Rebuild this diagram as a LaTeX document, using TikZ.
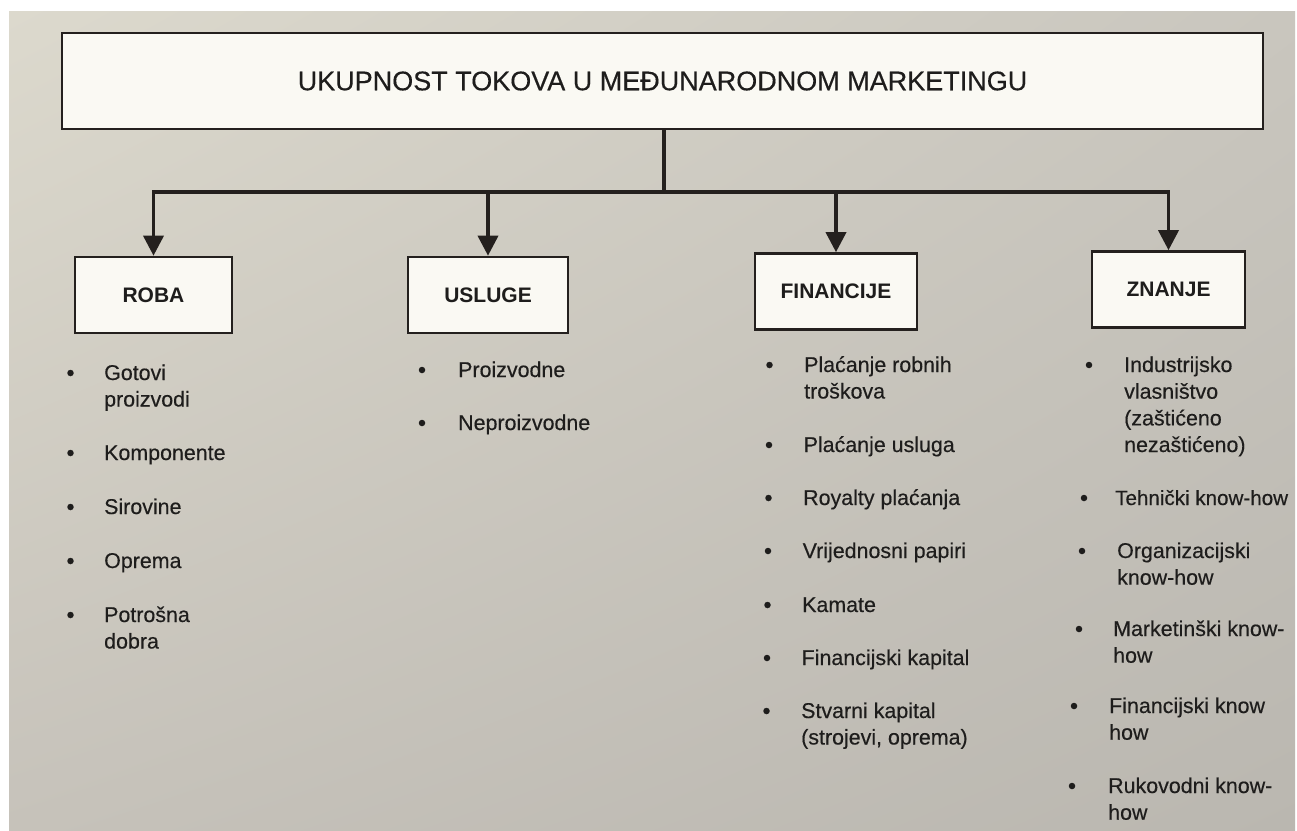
\documentclass[tikz,border=0pt]{standalone}
\usepackage{fontspec}
\setmainfont{Liberation Sans}
\newfontfamily\listfont[FakeBold=0.35]{Liberation Sans}
\usetikzlibrary{arrows.meta,shadings}
\definecolor{ink}{RGB}{36,32,30}
\definecolor{txt}{RGB}{30,29,28}
\definecolor{boxfill}{RGB}{250,249,243}
\definecolor{bgUL}{RGB}{220,217,205}
\definecolor{bgUR}{RGB}{201,198,190}
\definecolor{bgLL}{RGB}{198,194,186}
\definecolor{bgLR}{RGB}{186,183,176}
\begin{document}
\begin{tikzpicture}[x=1pt,y=-1pt,
  hbox/.style={draw=ink,line width=2.6pt,fill=boxfill,inner sep=0pt,text=txt},
  kid/.style={hbox,minimum height=76pt,font=\fontsize{21}{21}\selectfont\bfseries},
  conn/.style={draw=ink,line width=3.6pt},
  arr/.style={conn,-{Triangle[length=20pt,width=20pt]}},
  item/.style={anchor=base west,inner sep=0pt,text=txt,font=\listfont\fontsize{21.4}{21.4}\selectfont},
  dot/.style={circle,fill=txt,inner sep=0pt,minimum size=6.5pt}]
\useasboundingbox (0,0) rectangle (1297,830);
\fill[white] (0,0) rectangle (1297,830);
\shade[upper left=bgUL,upper right=bgUR,lower left=bgLL,lower right=bgLR] (9,11) rectangle (1295,830);

% top box
\node[hbox,minimum width=1201pt,minimum height=96pt,font=\listfont\fontsize{27}{27}\selectfont] (top) at (662.5,81) {UKUPNOST TOKOVA U MEĐUNARODNOM MARKETINGU};

% child boxes
\node[kid,minimum width=157pt] (roba) at (153.5,295) {ROBA};
\node[kid,minimum width=160pt] (usluge) at (488,295) {USLUGE};
\node[kid,minimum width=162pt] (fin) at (836,291.5) {FINANCIJE};
\node[kid,minimum width=153pt] (znanje) at (1168.5,289.5) {ZNANJE};

% connectors
\coordinate (bar) at (664,192);
\draw[conn] (top.south -| bar) -- (bar);
\draw[conn,line cap=rect] (bar -| roba.north) -- (bar -| znanje.north);
\draw[arr] (bar -| roba.north) -- (roba.north);
\draw[arr] (bar -| usluge.north) -- (usluge.north);
\draw[arr] (bar -| fin.north) -- (fin.north);
\draw[arr] (bar -| znanje.north) -- (znanje.north);

% ROBA list
\node[dot] (rd1) at (70.5,373) {};
\node[item] (r1a) at (104,380) {Gotovi};
\node[item] (r1b) at (104,406.5) {proizvodi};
\node[dot] (rd2) at (70.5,453) {};
\node[item] (r2) at (104,460) {Komponente};
\node[dot] (rd3) at (70.5,507) {};
\node[item] (r3) at (104,514) {Sirovine};
\node[dot] (rd4) at (70.5,561) {};
\node[item] (r4) at (104,568) {Oprema};
\node[dot] (rd5) at (70.5,615) {};
\node[item] (r5a) at (104,622) {Potrošna};
\node[item] (r5b) at (104,648.5) {dobra};

% USLUGE list
\node[dot] (ud1) at (422,370) {};
\node[item] (u1) at (458,377) {Proizvodne};
\node[dot] (ud2) at (422,423) {};
\node[item] (u2) at (458,430) {Neproizvodne};

% FINANCIJE list
\node[dot] (fd1) at (769.5,365) {};
\node[item] (f1a) at (804,372) {Plaćanje robnih};
\node[item] (f1b) at (804,398.5) {troškova};
\node[dot] (fd2) at (769,445) {};
\node[item] (f2) at (803.5,452) {Plaćanje usluga};
\node[dot] (fd3) at (768.5,498) {};
\node[item] (f3) at (803,505) {Royalty plaćanja};
\node[dot] (fd4) at (768,551) {};
\node[item] (f4) at (802.5,558) {Vrijednosni papiri};
\node[dot] (fd5) at (767.5,605) {};
\node[item] (f5) at (802,612) {Kamate};
\node[dot] (fd6) at (767,658) {};
\node[item] (f6) at (801.5,665) {Financijski kapital};
\node[dot] (fd7) at (766.5,711) {};
\node[item] (f7a) at (801,718) {Stvarni kapital};
\node[item] (f7b) at (801,744.5) {(strojevi, oprema)};

% ZNANJE list
\node[dot] (zd1) at (1089,365) {};
\node[item] (z1a) at (1124,372) {Industrijsko};
\node[item] (z1b) at (1124,398.7) {vlasništvo};
\node[item] (z1c) at (1124,425.4) {(zaštićeno};
\node[item] (z1d) at (1124,452) {nezaštićeno)};
\node[dot] (zd2) at (1084,498) {};
\node[item,font=\listfont\fontsize{20.6}{20.6}\selectfont] (z2) at (1115,505) {Tehnički know-how};
\node[dot] (zd3) at (1082,551) {};
\node[item] (z3a) at (1117,558) {Organizacijski};
\node[item] (z3b) at (1117,584.7) {know-how};
\node[dot] (zd4) at (1079,629) {};
\node[item] (z4a) at (1113,636) {Marketinški know-};
\node[item] (z4b) at (1113,662.7) {how};
\node[dot] (zd5) at (1074,706) {};
\node[item] (z5a) at (1109,713) {Financijski know};
\node[item] (z5b) at (1109,739.7) {how};
\node[dot] (zd6) at (1072,786) {};
\node[item] (z6a) at (1108,793) {Rukovodni know-};
\node[item] (z6b) at (1108,819.7) {how};
\end{tikzpicture}
\end{document}
